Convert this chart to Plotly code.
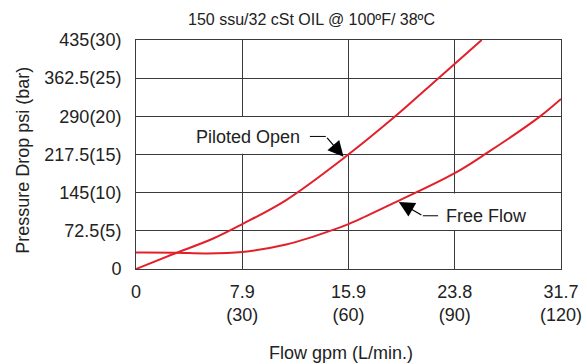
import plotly.graph_objects as go

# Flow in L/min, pressure drop in psi
piloted_flow = [0, 10, 21.8, 30, 42.4, 59.5, 73.2, 85.4, 97.6]
piloted_psi = [0, 27, 58, 85.3, 131, 215, 290, 362.5, 435]

free_flow = [0, 11.3, 19.8, 30, 42.4, 54.6, 60, 65, 73.6, 90, 99, 114.1, 120]
free_psi = [31.3, 31.0, 29.6, 32.4, 46.5, 71.9, 85.3, 100.5, 127.8, 182, 220, 290, 323]

x_ticks = [0, 30, 60, 90, 120]
x_labels = ['0', '7.9<br>(30)', '15.9<br>(60)', '23.8<br>(90)', '31.7<br>(120)']
y_ticks = [0, 72.5, 145, 217.5, 290, 362.5, 435]
y_labels = ['0', '72.5(5)', '145(10)', '217.5(15)', '290(20)', '362.5(25)', '435(30)']

RED = '#e2202b'
FONT = 'Liberation Sans, Arial, sans-serif'
GRID = '#3a3a3a'

fig = go.Figure()
for xs, ys, name in [(piloted_flow, piloted_psi, 'Piloted Open'),
                     (free_flow, free_psi, 'Free Flow')]:
    fig.add_trace(go.Scatter(
        x=xs, y=ys, name=name, mode='lines',
        line=dict(color=RED, width=2, shape='spline', smoothing=1.0),
    ))

# white patches behind the labels (hide the gridlines there)
fig.add_shape(type='rect', layer='between', x0=16, x1=61, y0=219, y1=288.5,
              fillcolor='white', line_width=0)
fig.add_shape(type='rect', layer='between', x0=74.5, x1=119.6, y0=74, y1=143.5,
              fillcolor='white', line_width=0)

# leader lines
fig.add_shape(type='line', x0=49.1, x1=53.6, y0=251.8, y1=251.8,
              line=dict(color='black', width=1))
fig.add_shape(type='line', x0=85.3, x1=81.0, y0=101.1, y1=101.1,
              line=dict(color='black', width=1))

anns = [
    dict(x=31.5, y=250.5, text='Piloted Open', showarrow=False,
         font=dict(size=18, color='#222')),
    dict(x=99.1, y=101, text='Free Flow', showarrow=False,
         font=dict(size=18, color='#222')),
    dict(x=58.6, y=213, ax=53.6, ay=251.8, axref='x', ayref='y', text='',
         showarrow=True, arrowhead=2, arrowsize=2.6, arrowwidth=1.2, arrowcolor='black'),
    dict(x=74.2, y=127.5, ax=81.0, ay=101.1, axref='x', ayref='y', text='',
         showarrow=True, arrowhead=2, arrowsize=2.6, arrowwidth=1.2, arrowcolor='black'),
    dict(xref='paper', yref='paper', x=(311 - 136) / 425, y=1 + (40 - 20) / 228,
         xanchor='center', yanchor='middle',
         text='150 ssu/32 cSt OIL @ 100ºF/ 38ºC', showarrow=False,
         font=dict(size=16, color='#222')),
    dict(xref='paper', yref='paper', x=(341 - 136) / 425, y=-(352 - 268.7) / 228,
         xanchor='center', yanchor='middle',
         text='Flow gpm (L/min.)', showarrow=False, font=dict(size=18, color='#222')),
    dict(xref='paper', yref='paper', x=-(136 - 23) / 425, y=(268.7 - 161) / 228,
         xanchor='center', yanchor='middle',
         text='Pressure Drop psi (bar)', showarrow=False, textangle=-90,
         font=dict(size=18, color='#222')),
]
for a in anns:
    fig.add_annotation(**a)

fig.update_layout(
    width=587, height=364,
    margin=dict(l=136, r=26, t=40, b=95, autoexpand=False),
    paper_bgcolor='white', plot_bgcolor='white',
    showlegend=False,
    font=dict(family=FONT, size=18, color='#222'),
)
fig.update_xaxes(
    range=[0, 120], tickvals=x_ticks, ticktext=x_labels, automargin=False,
    showgrid=True, gridcolor=GRID, gridwidth=1, zeroline=False,
    showline=True, linecolor=GRID, linewidth=1, mirror=True,
    ticks='', ticklabelstandoff=6,
)
fig.update_yaxes(
    range=[0, 435], tickvals=y_ticks, ticktext=y_labels, automargin=False,
    showgrid=True, gridcolor=GRID, gridwidth=1, zeroline=False,
    showline=True, linecolor=GRID, linewidth=1, mirror=True,
    ticks='', ticklabelstandoff=10,
)

fig.write_html('out.html', config={'displayModeBar': False},
               post_script="document.body.style.margin='0';")
